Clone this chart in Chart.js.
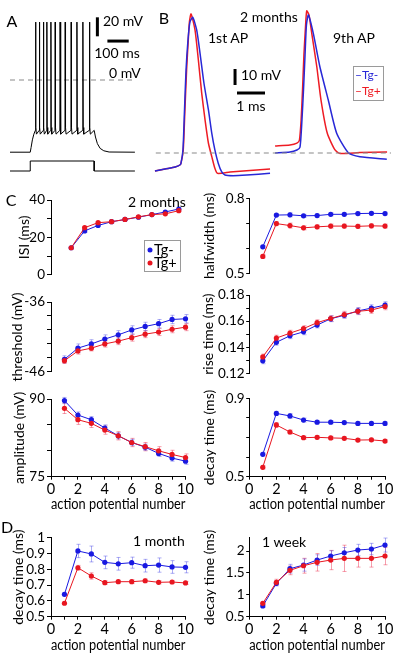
<!DOCTYPE html>
<html><head><meta charset="utf-8">
<script src="https://cdn.jsdelivr.net/npm/chart.js@4.4.1/dist/chart.umd.min.js"></script>
<style>
html,body{margin:0;padding:0;background:#fff;}
#wrap{position:relative;width:400px;height:658px;overflow:hidden;font-family:Lato,"Open Sans",sans-serif;background:#fff;}
canvas{position:absolute;}
.t{position:absolute;white-space:nowrap;line-height:1;color:#000;}
.box{position:absolute;border:1px solid #9a9a9a;box-sizing:border-box;}
.dot{position:absolute;width:5px;height:5px;border-radius:50%;transform:translate(-50%,-50%);}
</style></head><body><div id="wrap"></div>
<script>
// ---------------- DATA ----------------
const apNumbers = [1,2,3,4,5,6,7,8,9,10];
const isiNumbers = [1.5,2.5,3.5,4.5,5.5,6.5,7.5,8.5,9.5];

const isiTgMinus = [14.5, 23.5, 26.4, 28.4, 29.6, 30.8, 32.2, 33.6, 35.2];
const isiTgPlus  = [14.5, 25.2, 27.9, 28.4, 29.6, 31.0, 32.2, 32.6, 34.3];
const isiErrMinus = [0.6, 0.7, 0.6, 0.5, 0.5, 0.5, 0.5, 0.5, 0.5];
const isiErrPlus  = [0.6, 0.7, 0.6, 0.5, 0.5, 0.5, 0.5, 0.5, 0.5];

const thresholdTgMinus = [-44.2, -42.6, -42.0, -41.3, -40.7, -40.0, -39.5, -39.1, -38.5, -38.4];
const thresholdTgPlus  = [-44.4, -43.0, -42.6, -42.0, -41.6, -41.1, -40.6, -40.3, -39.9, -39.6];
const thresholdErrMinus = [0.5, 0.6, 0.6, 0.6, 0.6, 0.6, 0.6, 0.6, 0.6, 0.6];
const thresholdErrPlus  = [0.4, 0.45, 0.4, 0.45, 0.5, 0.5, 0.5, 0.5, 0.5, 0.5];

const amplitudeTgMinus = [89.7, 86.9, 86.0, 84.4, 82.9, 81.6, 80.7, 79.5, 78.6, 78.0];
const amplitudeTgPlus  = [88.2, 86.0, 85.3, 84.0, 82.9, 81.6, 80.8, 80.0, 79.3, 78.7];
const amplitudeErrMinus = [0.6, 0.6, 0.6, 0.6, 0.6, 0.6, 0.6, 0.6, 0.6, 0.6];
const amplitudeErrPlus  = [1.0, 0.9, 0.8, 0.8, 0.8, 0.8, 0.8, 0.8, 0.8, 0.7];

const halfwidthTgMinus = [0.606, 0.733, 0.734, 0.730, 0.731, 0.736, 0.736, 0.739, 0.740, 0.739];
const halfwidthTgPlus  = [0.568, 0.699, 0.691, 0.682, 0.686, 0.689, 0.689, 0.688, 0.690, 0.689];
const halfwidthErrMinus = [0.006, 0.006, 0.008, 0.006, 0.006, 0.006, 0.006, 0.006, 0.006, 0.006];
const halfwidthErrPlus  = [0.006, 0.008, 0.01, 0.008, 0.008, 0.008, 0.008, 0.008, 0.008, 0.008];

const riseTgMinus = [0.1296, 0.1438, 0.1488, 0.1518, 0.1570, 0.1618, 0.1645, 0.1678, 0.1700, 0.1723];
const riseTgPlus  = [0.1326, 0.1470, 0.1508, 0.1543, 0.1588, 0.1620, 0.1650, 0.1675, 0.1685, 0.1712];
const riseErrMinus = [0.0022, 0.0022, 0.0022, 0.0022, 0.0022, 0.0022, 0.0022, 0.0025, 0.0025, 0.0025];
const riseErrPlus  = [0.0022, 0.0022, 0.0022, 0.0022, 0.0022, 0.0022, 0.0025, 0.0025, 0.0025, 0.0025];

const decay2moTgMinus = [0.614, 0.823, 0.810, 0.789, 0.778, 0.778, 0.776, 0.772, 0.772, 0.772];
const decay2moTgPlus  = [0.548, 0.764, 0.728, 0.699, 0.701, 0.698, 0.696, 0.687, 0.688, 0.682];
const decay2moErrMinus = [0.008, 0.01, 0.012, 0.01, 0.008, 0.008, 0.008, 0.008, 0.008, 0.008];
const decay2moErrPlus  = [0.008, 0.012, 0.01, 0.008, 0.008, 0.008, 0.008, 0.008, 0.008, 0.008];

const decay1moTgMinus = [0.641, 0.915, 0.896, 0.843, 0.834, 0.841, 0.822, 0.826, 0.814, 0.812];
const decay1moTgPlus  = [0.585, 0.809, 0.757, 0.715, 0.721, 0.721, 0.727, 0.717, 0.719, 0.713];
const decay1moErrMinus = [0.01, 0.042, 0.05, 0.04, 0.04, 0.035, 0.04, 0.045, 0.04, 0.035];
const decay1moErrPlus  = [0.008, 0.015, 0.02, 0.012, 0.01, 0.012, 0.012, 0.01, 0.01, 0.01];

const decay1wkTgMinus = [0.744, 1.263, 1.596, 1.680, 1.794, 1.886, 1.961, 2.023, 2.046, 2.137];
const decay1wkTgPlus  = [0.806, 1.285, 1.559, 1.664, 1.742, 1.794, 1.833, 1.833, 1.833, 1.886];
const decay1wkErrMinus = [0.03, 0.06, 0.10, 0.14, 0.12, 0.12, 0.12, 0.13, 0.13, 0.16];
const decay1wkErrPlus  = [0.03, 0.07, 0.10, 0.17, 0.20, 0.22, 0.30, 0.20, 0.20, 0.20];

// tick values and labels
const apTicks = [0,1,2,3,4,5,6,7,8,9,10];
const apTickLabels = ['0','','2','','4','','6','','8','','10'];
const isiTicks = [0,10,20,30,40];            const isiTickLabels = ['0','','20','','40'];
const thresholdTicks = [-46,-44,-42,-40,-38,-36]; const thresholdTickLabels = ['-46','','','','','-36'];
const amplitudeTicks = [75,80,85,90];        const amplitudeTickLabels = ['75','','','90'];
const halfwidthTicks = [0.5,0.6,0.7,0.8];    const halfwidthTickLabels = ['0.5','','','0.8'];
const riseTicks = [0.12,0.13,0.14,0.15,0.16,0.17,0.18]; const riseTickLabels = ['0.12','','0.14','','0.16','','0.18'];
const decay2moTicks = [0.5,0.6,0.7,0.8,0.9]; const decay2moTickLabels = ['0.5','','','','0.9'];
const decay1moTicks = [0.5,0.6,0.7,0.8,0.9,1.0]; const decay1moTickLabels = ['0.5','0.6','0.7','0.8','0.9','1'];
const decay1wkTicks = [0.5,1,1.5,2];         const decay1wkTickLabels = ['0.5','1','1.5','2'];

// Panel A: membrane voltage trace [time ms, mV] and current step [time ms, pA]
const traceA = [[-95,-76],[0,-76],[4,-71],[10,-63],[17,-57],[24,-53],
 [25,61],[26.5,-50],[29,-57],[42,-53],
 [43,61],[44.5,-50],[47,-57],[61,-53],
 [62,61],[63.5,-50],[66,-57],[77,-53],
 [78,61],[79.5,-50],[82,-57],[96,-53],
 [97,61],[98.5,-50],[101,-57],[116,-53],
 [117,61],[118.5,-50],[121,-57],[139,-53],
 [140,61],[141.5,-50],[144,-57],[163,-53],
 [164,61],[165.5,-50],[168,-57],[191,-53],
 [192,61],[193.5,-50],[196,-57],[218,-53],
 [219,61],[220.5,-50],[223,-57],[246,-53],
 [247,61],[248.5,-50],[251,-57],[277,-53],
 [278,61],[279.5,-50],[282,-57],[300,-53],
 [306,-60],[315,-67],[328,-72],[345,-74.5],[370,-75.8],[491,-76]];
const stepA = [[-95,0],[0,0],[0,100],[300,100],[300,0],[491,0]];
const zeroLineA = [[-95,0],[491,0]];
const barA20mV = [[315,46],[315,66]];
const barA100ms = [[362,41],[462,41]];

// Panel B: single action potentials [time ms, mV]
const ap1TgMinus = [[0.07,-51.3],[0.43,-50],[0.79,-48.8],[0.96,-47.5],[1.00,-46.3],[1.07,-38.1],[1.125,-13.1],[1.18,11.9],[1.25,30.6],[1.32,41.9],[1.42,44.8],[1.56,36.9],[1.68,22.3],[1.82,3.6],[1.98,-13.1],[2.10,-27.7],[2.21,-38.1],[2.33,-46.4],[2.45,-51.7],[2.57,-53.8],[2.86,-54.2],[3.35,-53.8],[4.18,-52.7]];
const ap1TgPlus  = [[0.07,-51.3],[0.43,-50],[0.79,-48.8],[0.96,-47.5],[1.00,-46.3],[1.08,-38.1],[1.14,-13.1],[1.20,11.9],[1.26,30.6],[1.30,41.9],[1.36,46.9],[1.50,36.9],[1.62,18.1],[1.74,-2.7],[1.86,-19.4],[1.98,-33.9],[2.10,-42.3],[2.21,-49.6],[2.30,-52.7],[2.75,-51.9],[3.46,-50.9],[4.18,-50]];
const ap9TgMinus = [[4.36,-40],[4.89,-39.4],[5.14,-38.1],[5.25,-36.3],[5.32,-19.4],[5.375,-0.6],[5.43,21.3],[5.48,40],[5.55,46.3],[5.725,34.8],[5.96,13.9],[6.26,-6.9],[6.56,-27.7],[6.975,-39.8],[7.39,-42.3],[8.35,-43.9]];
const ap9TgPlus  = [[4.36,-35.6],[4.89,-35],[5.14,-33.8],[5.23,-31.9],[5.29,-19.4],[5.34,-0.6],[5.39,21.3],[5.45,40],[5.49,48.8],[5.57,46.3],[5.67,34.8],[5.85,13.9],[6.0,-6.9],[6.225,-27.7],[6.5,-38.1],[6.68,-40.3],[7.39,-39.7],[8.36,-39.4]];
const refLineB = [[0.1,-40],[8.5,-40]];
const barB10mV = [[2.93,2.5],[2.93,12.5]];
const barB1ms = [[3.0,-2.5],[4.0,-2.5]];

// ---------------- RENDERING ----------------
Chart.defaults.font.family = 'Lato';
const BLUE = 'rgb(25,25,225)', RED = 'rgb(232,22,32)';
const BLUE_E = 'rgba(70,70,230,0.45)', RED_E = 'rgba(235,40,70,0.45)';
const TRACE_BLUE = 'rgb(40,40,215)', TRACE_RED = 'rgb(238,28,36)';
const W = document.getElementById('wrap');

function mkCanvas(l,t,w,h){
  const c=document.createElement('canvas');
  c.width=w; c.height=h; c.style.left=l+'px'; c.style.top=t+'px';
  c.style.width=w+'px'; c.style.height=h+'px'; W.appendChild(c); return c;
}
function txt(s,x,y,o={}){
  const d=document.createElement('div'); d.className='t'; d.textContent=s;
  d.style.left=x+'px'; d.style.top=y+'px'; d.style.fontSize=(o.size||14)+'px';
  if(o.color) d.style.color=o.color;
  d.style.transform='translate('+(o.align==='center'?'-50%':'0')+',-50%)';
  W.appendChild(d); return d;
}
const pts = arr => arr.map(p=>({x:p[0],y:p[1]}));

const errorBarPlugin = {
  id:'errorBars',
  beforeDatasetsDraw(chart){
    const ctx=chart.ctx, xs=chart.scales.x, ys=chart.scales.y;
    chart.data.datasets.forEach(ds=>{
      if(!ds.errors) return;
      ctx.save(); ctx.strokeStyle=ds.errorColor; ctx.lineWidth=1;
      ds.data.forEach((p,i)=>{
        const e=ds.errors[i], x=Math.round(xs.getPixelForValue(p.x))+0.5;
        const y1=ys.getPixelForValue(p.y-e), y2=ys.getPixelForValue(p.y+e);
        ctx.beginPath();
        ctx.moveTo(x,y1); ctx.lineTo(x,y2);
        ctx.moveTo(x-2,y1); ctx.lineTo(x+2,y1);
        ctx.moveTo(x-2,y2); ctx.lineTo(x+2,y2);
        ctx.stroke();
      });
      ctx.restore();
    });
  }
};

function ser(xs, ys, errs, color, ecolor){
  return {data: xs.map((x,i)=>({x:x,y:ys[i]})), errors:errs, errorColor:ecolor,
    borderColor:color, backgroundColor:color, borderWidth:1, pointRadius:2.6,
    pointBorderWidth:0, pointBackgroundColor:color, tension:0, clip:false};
}

const TICKFONT = {family:'Lato', size:13.5};
const TITLEFONT = {family:'Lato', size:14, lineHeight:1.2};
const TITLE_HALF = 14*1.2/2;
const LEFT = {left:0, w:200, axisX:51, padR:14.5, tl:4, tp:2};
const RIGHT = {left:200, w:200, axisX:249.2, padR:15, tl:3, tp:1.5};

function statPanel(o){
  const col=o.col;
  const padL = o.titleX - TITLE_HALF - col.left;
  const yW = col.axisX - col.left - padL;
  const c=mkCanvas(col.left,o.top,col.w,o.h);
  new Chart(c,{
    type:'line',
    data:{datasets:[ser(o.xs,o.plus,o.errPlus,RED,RED_E), ser(o.xs,o.minus,o.errMinus,BLUE,BLUE_E)]},
    options:{
      responsive:false, animation:false, events:[], devicePixelRatio:1,
      layout:{padding:{left:padL,right:col.padR,top:o.padT,bottom:o.padB}},
      plugins:{legend:{display:false}, tooltip:{enabled:false}},
      scales:{
        x:{type:'linear', min:0, max:10, display:!!o.showX,
          afterFit(s){ s.height=o.xH||0; },
          afterBuildTicks(s){ s.ticks=apTicks.map(v=>({value:v})); },
          border:{display:true,color:'#000',width:1},
          grid:{display:true,drawOnChartArea:false,drawTicks:true,tickLength:3,color:'#000',lineWidth:1},
          ticks:{color:'#000',font:{family:'Lato',size:14.5},padding:1,maxRotation:0,autoSkip:false,callback:(v,i)=>apTickLabels[i]},
          title:{display:true,text:'action potential number',color:'#000',font:{family:'Lato',size:14.5},padding:0}
        },
        y:{type:'linear', min:o.ymin, max:o.ymax,
          afterFit(s){ s.width=yW; },
          afterBuildTicks(s){ s.ticks=o.yTicks.map(v=>({value:v})); },
          border:{display:true,color:'#000',width:1},
          grid:{display:true,drawOnChartArea:false,drawTicks:true,tickLength:col.tl,color:'#000',lineWidth:1},
          ticks:{color:'#000',font:TICKFONT,padding:col.tp,autoSkip:false,callback:(v,i)=>o.yLabels[i]},
          title:{display:true,text:o.yTitle,color:'#000',font:TITLEFONT,padding:0}
        }
      }
    },
    plugins:[errorBarPlugin]
  });
}

// ---- Panel A ----
(function(){
  const c=mkCanvas(10,10,125,165);
  new Chart(c,{type:'line',data:{datasets:[
    {data:pts(traceA),borderColor:'#000',borderWidth:1,pointRadius:0,tension:0,yAxisID:'y'},
    {data:pts(stepA),borderColor:'#000',borderWidth:1,pointRadius:0,tension:0,yAxisID:'yI'},
    {data:pts(zeroLineA),borderColor:'#8a8a8a',borderWidth:1.2,borderDash:[5,4],pointRadius:0,yAxisID:'y'},
    {data:pts(barA20mV),borderColor:'#000',borderWidth:3,pointRadius:0,yAxisID:'y',borderCapStyle:'butt'},
    {data:pts(barA100ms),borderColor:'#000',borderWidth:3,pointRadius:0,yAxisID:'y',borderCapStyle:'butt'}
  ]},options:{responsive:false,animation:false,events:[],devicePixelRatio:1,layout:{padding:0},
    plugins:{legend:{display:false},tooltip:{enabled:false}},
    scales:{x:{type:'linear',display:false,min:-95,max:491.5},
            y:{type:'linear',display:false,min:-100,max:73.7},
            yI:{type:'linear',display:false,min:-40,max:1610}}}});
})();

// ---- Panel B ----
(function(){
  const c=mkCanvas(153,5,240,180);
  const tr=(d,col)=>({data:pts(d),borderColor:col,borderWidth:1.5,pointRadius:0,tension:0.2});
  new Chart(c,{type:'line',data:{datasets:[
    {data:pts(refLineB),borderColor:'#8a8a8a',borderWidth:1.2,borderDash:[5,4],pointRadius:0},
    tr(ap1TgMinus,TRACE_BLUE), tr(ap1TgPlus,TRACE_RED),
    tr(ap9TgMinus,TRACE_BLUE), tr(ap9TgPlus,TRACE_RED),
    {data:pts(barB10mV),borderColor:'#000',borderWidth:3,pointRadius:0,borderCapStyle:'butt'},
    {data:pts(barB1ms),borderColor:'#000',borderWidth:3,pointRadius:0,borderCapStyle:'butt'}
  ]},options:{responsive:false,animation:false,events:[],devicePixelRatio:1,layout:{padding:0},
    plugins:{legend:{display:false},tooltip:{enabled:false}},
    scales:{x:{type:'linear',display:false,min:0,max:240/28},
            y:{type:'linear',display:false,min:-60,max:52.5}}}});
})();

// ---- Panel C ----
statPanel({col:LEFT, titleX:24, top:185, h:100, padT:15, padB:8.3, xs:isiNumbers, minus:isiTgMinus, plus:isiTgPlus,
  errMinus:isiErrMinus, errPlus:isiErrPlus, ymin:0, ymax:40, yTicks:isiTicks, yLabels:isiTickLabels, yTitle:'ISI (ms)'});
statPanel({col:LEFT, titleX:17, top:287, h:95, padT:15, padB:7, xs:apNumbers, minus:thresholdTgMinus, plus:thresholdTgPlus,
  errMinus:thresholdErrMinus, errPlus:thresholdErrPlus, ymin:-46, ymax:-36, yTicks:thresholdTicks, yLabels:thresholdTickLabels, yTitle:'threshold (mV)'});
statPanel({col:LEFT, titleX:19, top:384, h:132, padT:15, padB:3.3, showX:true, xH:36, xs:apNumbers, minus:amplitudeTgMinus, plus:amplitudeTgPlus,
  errMinus:amplitudeErrMinus, errPlus:amplitudeErrPlus, ymin:75, ymax:90, yTicks:amplitudeTicks, yLabels:amplitudeTickLabels, yTitle:'amplitude (mV)'});
statPanel({col:RIGHT, titleX:209, top:183, h:100, padT:15.3, padB:7.3, xs:apNumbers, minus:halfwidthTgMinus, plus:halfwidthTgPlus,
  errMinus:halfwidthErrMinus, errPlus:halfwidthErrPlus, ymin:0.5, ymax:0.8, yTicks:halfwidthTicks, yLabels:halfwidthTickLabels, yTitle:'halfwidth (ms)'});
statPanel({col:RIGHT, titleX:208, top:280, h:103, padT:15, padB:8, xs:apNumbers, minus:riseTgMinus, plus:riseTgPlus,
  errMinus:riseErrMinus, errPlus:riseErrPlus, ymin:0.12, ymax:0.18, yTicks:riseTicks, yLabels:riseTickLabels, yTitle:'rise time (ms)'});
statPanel({col:RIGHT, titleX:209, top:383, h:132, padT:15.3, padB:2.3, showX:true, xH:36, xs:apNumbers, minus:decay2moTgMinus, plus:decay2moTgPlus,
  errMinus:decay2moErrMinus, errPlus:decay2moErrPlus, ymin:0.5, ymax:0.9, yTicks:decay2moTicks, yLabels:decay2moTickLabels, yTitle:'decay time (ms)'});

// ---- Panel D ----
statPanel({col:LEFT, titleX:18, top:522, h:136, padT:15.5, padB:4.3, showX:true, xH:37, xs:apNumbers, minus:decay1moTgMinus, plus:decay1moTgPlus,
  errMinus:decay1moErrMinus, errPlus:decay1moErrPlus, ymin:0.5, ymax:1.0, yTicks:decay1moTicks, yLabels:decay1moTickLabels, yTitle:'decay time (ms)'});
statPanel({col:RIGHT, titleX:209, top:522, h:136, padT:15.9, padB:4.3, showX:true, xH:37, xs:apNumbers, minus:decay1wkTgMinus, plus:decay1wkTgPlus,
  errMinus:decay1wkErrMinus, errPlus:decay1wkErrPlus, ymin:0.5, ymax:2.3, yTicks:decay1wkTicks, yLabels:decay1wkTickLabels, yTitle:'decay time (ms)'});

// ---- Text annotations ----
txt('A',12,21,{size:16,align:'center'});
txt('20 mV',103,21,{size:14});
txt('100 ms',117,53,{size:14,align:'center'});
txt('0 mV',109,73,{size:14});
txt('B',164,18,{size:16,align:'center'});
txt('2 months',240,17,{size:14});
txt('1st AP',208,38,{size:14});
txt('9th AP',333,38,{size:14});
txt('10 mV',241,75,{size:14});
txt('1 ms',251,106,{size:14,align:'center'});
(function(){
  const b=document.createElement('div'); b.className='box';
  b.style.left='353px'; b.style.top='66px'; b.style.width='31px'; b.style.height='35px'; W.appendChild(b);
  txt('\u2013Tg-',355,75,{size:12,color:TRACE_BLUE});
  txt('\u2013Tg+',355,91,{size:12,color:TRACE_RED});
})();
txt('C',11,200,{size:16,align:'center'});
txt('2 months',128,202,{size:14});
(function(){
  const b=document.createElement('div'); b.className='box';
  b.style.left='144px'; b.style.top='240px'; b.style.width='37px'; b.style.height='32px'; W.appendChild(b);
  const d1=document.createElement('div'); d1.className='dot'; d1.style.left='150px'; d1.style.top='250px'; d1.style.background=BLUE; W.appendChild(d1);
  const d2=document.createElement('div'); d2.className='dot'; d2.style.left='150px'; d2.style.top='263px'; d2.style.background=RED; W.appendChild(d2);
  txt('Tg-',154,250,{size:14.5});
  txt('Tg+',154,263,{size:14.5});
})();
txt('D',7,527,{size:16,align:'center'});
txt('1 month',133,541,{size:14});
txt('1 week',262,542,{size:14});
</script>
</body></html>
